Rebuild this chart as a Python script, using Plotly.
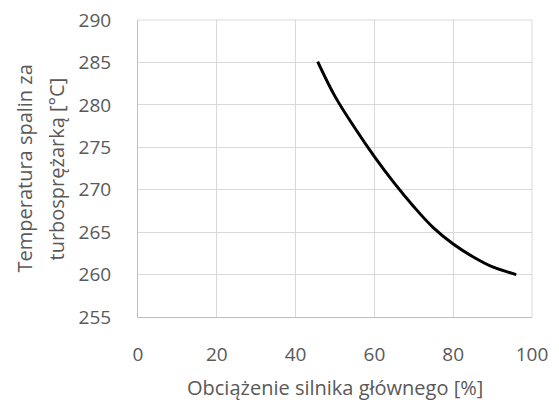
import plotly.graph_objects as go

load_pct = [45.6, 50.0, 55.0, 60.0, 65.0, 70.0, 75.0, 80.0, 85.0, 90.0, 96.0]
temp_c = [285.1, 281.0, 277.3, 273.9, 270.8, 268.0, 265.5, 263.6, 262.1, 260.9, 260.0]

x_ticks = [0, 20, 40, 60, 80, 100]
y_ticks = [255, 260, 265, 270, 275, 280, 285, 290]

x_title = "Obciążenie silnika głównego [%]"
y_title_lines = ["Temperatura spalin za", "turbosprężarką [°C]"]

font_family = "'Open Sans', sans-serif"
txt = "#595959"
grid = "#d9d9d9"

fig = go.Figure()
fig.add_trace(go.Scatter(
    x=load_pct, y=temp_c, mode="lines",
    line=dict(color="black", width=3, shape="spline", smoothing=1.0),
    showlegend=False, hoverinfo="skip",
))

# page has an 8px body margin, so the figure is offset by 8px
fig.update_layout(
    width=551, height=397,
    margin=dict(l=130, r=27, t=12, b=88, autoexpand=False),
    paper_bgcolor="white", plot_bgcolor="white",
    font=dict(family=font_family, size=19, color=txt),
)
fig.update_xaxes(
    range=[0, 100], tickvals=x_ticks, ticktext=[str(v) for v in x_ticks],
    showgrid=True, gridcolor=grid, gridwidth=1,
    showline=True, linecolor="#bfbfbf", linewidth=1, automargin=False,
    zeroline=False, ticks="", ticklabelstandoff=20, ticklabeloverflow="allow",
    tickfont=dict(size=19, color=txt),
)
fig.update_yaxes(
    range=[255, 290], tickvals=y_ticks, ticktext=[str(v) for v in y_ticks],
    showgrid=True, gridcolor=grid, gridwidth=1,
    showline=True, linecolor="#bfbfbf", linewidth=1, automargin=False,
    zeroline=False, ticks="", ticklabelstandoff=22, ticklabeloverflow="allow",
    tickfont=dict(size=19, color=txt),
)
fig.add_shape(type="line", xref="paper", yref="paper", x0=1, x1=1, y0=0, y1=1,
              line=dict(color=grid, width=1))
fig.add_shape(type="line", xref="paper", yref="paper", x0=0, x1=1, y0=1, y1=1,
              line=dict(color=grid, width=1))

fig.add_annotation(text=x_title, xref="paper", yref="paper", x=0.5, y=-0.239,
                   xanchor="center", yanchor="middle", showarrow=False,
                   font=dict(size=20, color=txt))
for xp, line in zip([-0.2893, -0.2056], y_title_lines):
    fig.add_annotation(text=line, xref="paper", yref="paper", x=xp, y=0.5,
                       xanchor="center", yanchor="middle", showarrow=False,
                       textangle=-90, font=dict(size=20, color=txt))

fig.write_html("out.html")
